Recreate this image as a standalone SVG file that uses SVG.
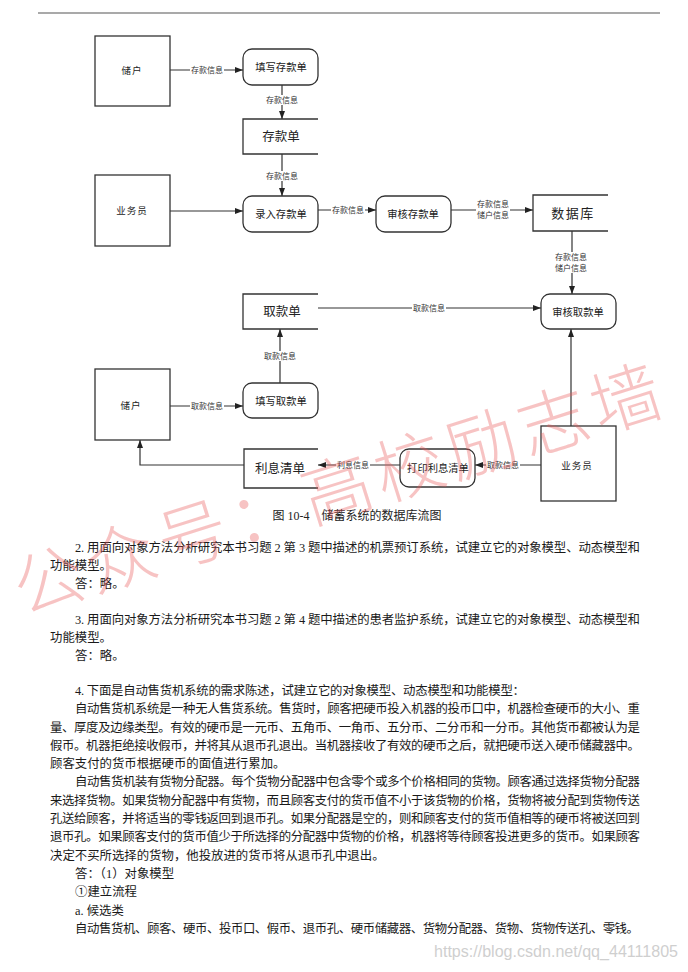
<svg xmlns="http://www.w3.org/2000/svg" width="688" height="972" viewBox="0 0 688 972">
<style>
.box{fill:#fff;stroke:#333;stroke-width:1.3}
.ds{fill:none;stroke:#333;stroke-width:1.3}
.cn{fill:none;stroke:#333;stroke-width:1.2}
.t{font-family:'Liberation Serif','Noto Sans CJK SC',serif;fill:#222;text-anchor:middle}
.n10{font-size:10.3px}
.n9{font-size:9.5px;letter-spacing:1px}
.n12{font-size:12.5px}
.lb{font-family:'Liberation Serif','Noto Sans CJK SC',serif;font-size:8px;fill:#333;text-anchor:middle}
.bg{fill:#fff}
.p{font-family:'Liberation Serif','Noto Sans CJK SC',serif;font-size:12.4px;fill:#1a1a1a}
</style>
<defs>
<marker id="ah" markerUnits="userSpaceOnUse" markerWidth="8" markerHeight="6" refX="8" refY="3" orient="auto">
<path d="M0,0 L8,3 L0,6 z" fill="#222"/>
</marker>
</defs>
<rect width="688" height="972" fill="#fff"/>
<line x1="38" y1="13" x2="660" y2="13" stroke="#555" stroke-width="1.2"/>

<g id="connectors">
<path class="cn" d="M170,70 H243" marker-end="url(#ah)"/>
<path class="cn" d="M282,85 V119" marker-end="url(#ah)"/>
<path class="cn" d="M282,154 V196" marker-end="url(#ah)"/>
<path class="cn" d="M170,211 H243" marker-end="url(#ah)"/>
<path class="cn" d="M318,210 H376" marker-end="url(#ah)"/>
<path class="cn" d="M451,210 H533" marker-end="url(#ah)"/>
<path class="cn" d="M572,231 V294" marker-end="url(#ah)"/>
<path class="cn" d="M318,308 H541" marker-end="url(#ah)"/>
<path class="cn" d="M280,383 V329" marker-end="url(#ah)"/>
<path class="cn" d="M170,406 H243" marker-end="url(#ah)"/>
<path class="cn" d="M571,426 V329" marker-end="url(#ah)"/>
<path class="cn" d="M541,465 H475" marker-end="url(#ah)"/>
<path class="cn" d="M400,465 H318" marker-end="url(#ah)"/>
<path class="cn" d="M244,465 H140 V440" marker-end="url(#ah)"/>
<rect class="bg" x="190" y="65" width="34" height="10"/><text class="lb" x="207" y="73">存款信息</text>
<rect class="bg" x="265" y="95" width="34" height="10"/><text class="lb" x="282" y="103">存款信息</text>
<rect class="bg" x="265" y="171" width="34" height="10"/><text class="lb" x="282" y="179">存款信息</text>
<rect class="bg" x="331" y="205" width="34" height="10"/><text class="lb" x="348" y="213">存款信息</text>
<rect class="bg" x="476" y="199" width="34" height="21"/><text class="lb" x="493" y="207">存款信息</text><text class="lb" x="493" y="218">储户信息</text>
<rect class="bg" x="554" y="252" width="34" height="21"/><text class="lb" x="571" y="260">存款信息</text><text class="lb" x="571" y="271">储户信息</text>
<rect class="bg" x="412" y="303" width="34" height="10"/><text class="lb" x="429" y="311">取款信息</text>
<rect class="bg" x="263" y="351" width="34" height="10"/><text class="lb" x="280" y="359">取款信息</text>
<rect class="bg" x="190" y="401" width="34" height="10"/><text class="lb" x="207" y="409">取款信息</text>
<rect class="bg" x="486" y="460" width="34" height="10"/><text class="lb" x="503" y="468">取款信息</text>
<rect class="bg" x="336" y="460" width="34" height="10"/><text class="lb" x="353" y="468">利息信息</text>
</g>

<g id="n-chuhu1"><rect class="box" x="95" y="36" width="75" height="70"/><text class="t n9" x="132" y="74">储户</text></g>
<g id="n-tianxie-cun"><rect class="box" x="243" y="49" width="75" height="36" rx="9"/><text class="t n10" x="281" y="71">填写存款单</text></g>
<g id="n-cunkuandan"><path class="ds" d="M318,119 H243 V154 H318"/><text class="t n12" x="281" y="141">存款单</text></g>
<g id="n-yewuyuan1"><rect class="box" x="95" y="175" width="75" height="71"/><text class="t n9" x="132" y="214">业务员</text></g>
<g id="n-luru"><rect class="box" x="243" y="196" width="75" height="36" rx="9"/><text class="t n10" x="281" y="218">录入存款单</text></g>
<g id="n-shenhe-cun"><rect class="box" x="376" y="196" width="75" height="36" rx="9"/><text class="t n10" x="413" y="218">审核存款单</text></g>
<g id="n-shujuku"><path class="ds" d="M608,195 H533 V231 H608"/><text class="t" style="font-size:13px;letter-spacing:1.5px" x="573" y="218">数据库</text></g>
<g id="n-shenhe-qu"><rect class="box" x="541" y="294" width="75" height="35" rx="9"/><text class="t n10" x="578" y="315.5">审核取款单</text></g>
<g id="n-qukuandan"><path class="ds" d="M318,294 H243 V329 H318"/><text class="t n12" x="282" y="316">取款单</text></g>
<g id="n-tianxie-qu"><rect class="box" x="243" y="383" width="75" height="35" rx="9"/><text class="t n10" x="281" y="404.5">填写取款单</text></g>
<g id="n-chuhu2"><rect class="box" x="95" y="369" width="75" height="71"/><text class="t n9" x="131" y="409">储户</text></g>
<g id="n-lixiqingdan"><path class="ds" d="M318,449 H244 V488 H318"/><text class="t n12" x="280" y="472.5">利息清单</text></g>
<g id="n-dayin"><rect class="box" x="400" y="449" width="75" height="38" rx="9"/><text class="t n10" x="438" y="472">打印利息清单</text></g>
<g id="n-yewuyuan2"><rect class="box" x="541" y="426" width="75" height="75"/><text class="t n9" x="577" y="469">业务员</text></g>

<text class="t" style="font-size:12px" x="357" y="520" xml:space="preserve">图 10-4    储蓄系统的数据库流图</text>

<g id="body">
<text class="p" x="75" y="551.5" textLength="565" lengthAdjust="spacing">2. 用面向对象方法分析研究本书习题 2 第 3 题中描述的机票预订系统，试建立它的对象模型、动态模型和</text>
<text class="p" x="50" y="569.5">功能模型。</text>
<text class="p" x="75" y="587.5">答：略。</text>
<text class="p" x="75" y="623.5" textLength="565" lengthAdjust="spacing">3. 用面向对象方法分析研究本书习题 2 第 4 题中描述的患者监护系统，试建立它的对象模型、动态模型和</text>
<text class="p" x="50" y="641.5">功能模型。</text>
<text class="p" x="75" y="659.5">答：略。</text>
<text class="p" x="75" y="695" textLength="450" lengthAdjust="spacing">4. 下面是自动售货机系统的需求陈述，试建立它的对象模型、动态模型和功能模型：</text>
<text class="p" x="75" y="713.2" textLength="565" lengthAdjust="spacing">自动售货机系统是一种无人售货系统。售货时，顾客把硬币投入机器的投币口中，机器检查硬币的大小、重</text>
<text class="p" x="50" y="731.5" textLength="590" lengthAdjust="spacing">量、厚度及边缘类型。有效的硬币是一元币、五角币、一角币、五分币、二分币和一分币。其他货币都被认为是</text>
<text class="p" x="50" y="749.8" textLength="590" lengthAdjust="spacing">假币。机器拒绝接收假币，并将其从退币孔退出。当机器接收了有效的硬币之后，就把硬币送入硬币储藏器中。</text>
<text class="p" x="50" y="768.1">顾客支付的货币根据硬币的面值进行累加。</text>
<text class="p" x="75" y="786.4" textLength="565" lengthAdjust="spacing">自动售货机装有货物分配器。每个货物分配器中包含零个或多个价格相同的货物。顾客通过选择货物分配器</text>
<text class="p" x="50" y="804.7" textLength="590" lengthAdjust="spacing">来选择货物。如果货物分配器中有货物，而且顾客支付的货币值不小于该货物的价格，货物将被分配到货物传送</text>
<text class="p" x="50" y="823" textLength="590" lengthAdjust="spacing">孔送给顾客，并将适当的零钱返回到退币孔。如果分配器是空的，则和顾客支付的货币值相等的硬币将被送回到</text>
<text class="p" x="50" y="841.3" textLength="590" lengthAdjust="spacing">退币孔。如果顾客支付的货币值少于所选择的分配器中货物的价格，机器将等待顾客投进更多的货币。如果顾客</text>
<text class="p" x="50" y="859.6">决定不买所选择的货物，他投放进的货币将从退币孔中退出。</text>
<text class="p" x="75" y="877.9">答：（1）对象模型</text>
<text class="p" x="75" y="896.2">①建立流程</text>
<text class="p" x="75" y="914.5">a. 候选类</text>
<text class="p" x="75" y="932.8" textLength="564" lengthAdjust="spacing">自动售货机、顾客、硬币、投币口、假币、退币孔、硬币储藏器、货物分配器、货物、货物传送孔、零钱。</text>
</g>

<g id="watermark" transform="translate(337,490) rotate(-17.5)">
<text x="0" y="25" text-anchor="middle" textLength="675" lengthAdjust="spacing" style="font-family:'Noto Sans CJK SC',sans-serif;font-size:70px;font-weight:300;fill:#e85a5a;fill-opacity:0.36">公众号：高校励志墙</text>
</g>
<text x="678" y="957" text-anchor="end" textLength="244" lengthAdjust="spacingAndGlyphs" style="font-family:'Liberation Sans',sans-serif;font-size:16px;fill:#cfcfcf">https://blog.csdn.net/qq_44111805</text>
</svg>
